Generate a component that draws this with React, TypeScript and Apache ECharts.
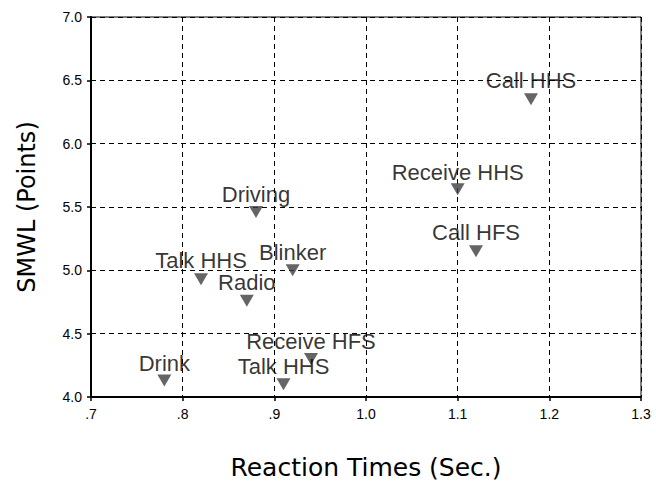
import React, { useEffect, useRef } from "react";
import * as echarts from "echarts";

const labels = ["Call HHS", "Receive HHS", "Call HFS", "Driving", "Blinker", "Talk HHS", "Radio", "Drink", "Receive HFS", "Talk HHS"];
const reactionTimes = [1.18, 1.1, 1.12, 0.88, 0.92, 0.82, 0.87, 0.78, 0.94, 0.91];
const smwl = [6.35, 5.64, 5.15, 5.46, 5.0, 4.93, 4.76, 4.13, 4.3, 4.1];
const labelLift = [19, 17, 19, 18, 18, 19, 18, 17, 18, 18];

const fmtX = (v: number) => {
  const s = v.toFixed(1);
  return v < 1 ? s.replace(/^0/, "") : s;
};

export default function App() {
  const ref = useRef<HTMLDivElement>(null);
  useEffect(() => {
    if (!ref.current) return;
    const chart = echarts.init(ref.current, null, { renderer: "svg" });
    const data = labels.map((name, i) => ({
      name,
      value: [reactionTimes[i], smwl[i]],
      label: { offset: [0, -labelLift[i]] },
    }));
    chart.setOption({
      animation: false,
      backgroundColor: "#ffffff",
      grid: {
        left: 91,
        right: 15,
        top: 17,
        bottom: 84,
        containLabel: false,
        outerBoundsMode: "none",
        show: true,
        borderColor: "#000",
        borderWidth: 1,
      },
      xAxis: {
        type: "value",
        min: 0.7,
        max: 1.3,
        interval: 0.1,
        name: "Reaction Times (Sec.)",
        nameLocation: "middle",
        nameGap: 58,
        nameTextStyle: { fontFamily: "DejaVu Sans", fontSize: 25, color: "#000" },
        axisLine: { show: true, onZero: false, lineStyle: { color: "#000", width: 2 } },
        axisTick: { show: true, length: 4, lineStyle: { color: "#000", width: 1.5 } },
        axisLabel: {
          formatter: fmtX,
          fontFamily: "Liberation Sans",
          fontSize: 14,
          color: "#000",
          margin: 10,
          showMinLabel: true,
          showMaxLabel: true,
        },
        splitLine: { show: true, lineStyle: { color: "#000", type: [5, 4], width: 1 } },
      },
      yAxis: {
        type: "value",
        min: 4,
        max: 7,
        interval: 0.5,
        name: "SMWL (Points)",
        nameLocation: "middle",
        nameGap: 52,
        nameTextStyle: { fontFamily: "DejaVu Sans", fontSize: 24, color: "#000" },
        axisLine: { show: true, onZero: false, lineStyle: { color: "#000", width: 2 } },
        axisTick: { show: true, length: 4, lineStyle: { color: "#000", width: 1.5 } },
        axisLabel: {
          formatter: (v: number) => v.toFixed(1),
          fontFamily: "Liberation Sans",
          fontSize: 14,
          color: "#000",
          margin: 9,
        },
        splitLine: { show: true, lineStyle: { color: "#000", type: [5, 4], width: 1 } },
      },
      series: [
        {
          type: "scatter",
          symbol: "triangle",
          symbolRotate: 180,
          symbolSize: [14, 12],
          itemStyle: { color: "#3f3f3f" },
          label: {
            show: true,
            position: "inside",
            formatter: (p: any) => p.name,
            fontFamily: "Liberation Sans",
            fontSize: 22,
            color: "#000",
          },
          z: 3,
          data,
        },
      ],
    });
    return () => chart.dispose();
  }, []);
  return (
    <div
      ref={ref}
      style={{ position: "fixed", left: 0, top: 0, width: 656, height: 481, background: "#fff" }}
    />
  );
}
